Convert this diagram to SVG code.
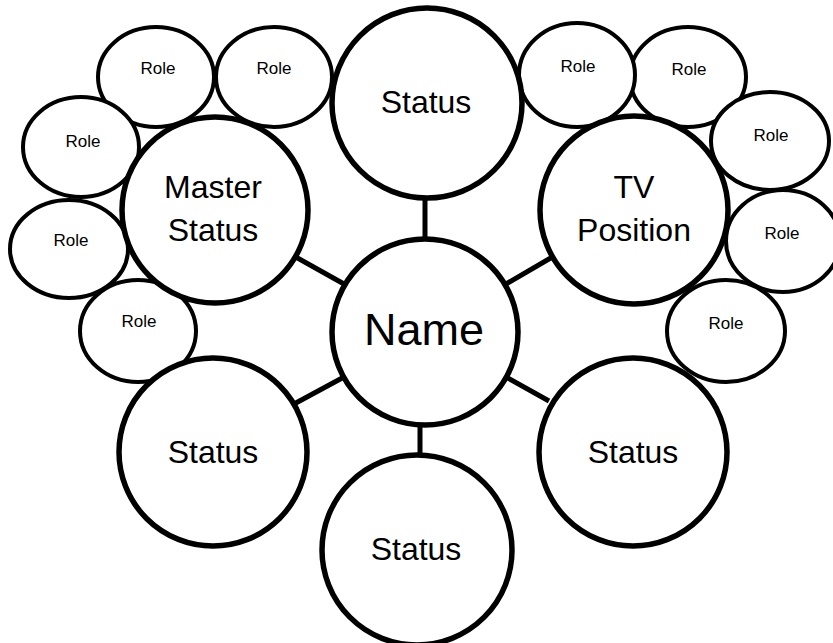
<svg xmlns="http://www.w3.org/2000/svg" width="833" height="643" viewBox="0 0 833 643">
<style>
.role{fill:#fff;stroke:#000;stroke-width:4}
.big{fill:#fff;stroke:#000;stroke-width:5.5}
.con line{stroke:#000;stroke-width:5}
text{font-family:"Liberation Sans",Arial,sans-serif;fill:#000;text-anchor:middle}
.rt{font-size:17px}
.st{font-size:32px}
.nm{font-size:45px}
</style>
<rect width="833" height="643" fill="#fff"/>
<g id="connectors" class="con">
<line x1="425" y1="196" x2="425" y2="241"/>
<line x1="294" y1="256" x2="344" y2="284"/>
<line x1="506" y1="284" x2="554" y2="256"/>
<line x1="294" y1="404" x2="344" y2="377"/>
<line x1="506" y1="377" x2="549" y2="401"/>
<line x1="420" y1="424" x2="420" y2="458"/>
</g>
<g id="role1"><ellipse class="role" cx="156" cy="77" rx="58" ry="50"/><text class="rt" x="158" y="74">Role</text></g>
<g id="role2"><ellipse class="role" cx="274" cy="77" rx="58" ry="50"/><text class="rt" x="274" y="74">Role</text></g>
<g id="role3"><ellipse class="role" cx="81" cy="147" rx="58" ry="50"/><text class="rt" x="83" y="147">Role</text></g>
<g id="role4"><ellipse class="role" cx="69" cy="249" rx="59" ry="49"/><text class="rt" x="71" y="246">Role</text></g>
<g id="role5"><ellipse class="role" cx="138" cy="331" rx="58" ry="51"/><text class="rt" x="139" y="327">Role</text></g>
<g id="role7"><ellipse class="role" cx="688" cy="77" rx="58" ry="50"/><text class="rt" x="689" y="75">Role</text></g>
<g id="role6"><ellipse class="role" cx="577" cy="75" rx="58" ry="52"/><text class="rt" x="578" y="72">Role</text></g>
<g id="role9"><ellipse class="role" cx="783" cy="241" rx="57" ry="51"/><text class="rt" x="782" y="239">Role</text></g>
<g id="role8"><ellipse class="role" cx="770" cy="141" rx="59" ry="49"/><text class="rt" x="771" y="141">Role</text></g>
<g id="role10"><ellipse class="role" cx="726" cy="331" rx="59" ry="51"/><text class="rt" x="726" y="329">Role</text></g>
<g id="status-top"><circle class="big" cx="427" cy="103" r="95"/><text class="st" x="426" y="113">Status</text></g>
<g id="master-status"><circle class="big" cx="215" cy="210" r="93"/><text class="st" x="213" y="198">Master</text><text class="st" x="213" y="241">Status</text></g>
<g id="tv-position"><circle class="big" cx="634" cy="210" r="94"/><text class="st" x="634" y="198">TV</text><text class="st" x="634" y="241">Position</text></g>
<g id="name"><circle class="big" cx="425" cy="332" r="93"/><text class="nm" x="424" y="345">Name</text></g>
<g id="status-left"><circle class="big" cx="213" cy="452" r="94"/><text class="st" x="213" y="463">Status</text></g>
<g id="status-right"><circle class="big" cx="633" cy="452" r="94"/><text class="st" x="633" y="463">Status</text></g>
<g id="status-bottom"><circle class="big" cx="417" cy="550" r="95"/><text class="st" x="416" y="560">Status</text></g>
</svg>
